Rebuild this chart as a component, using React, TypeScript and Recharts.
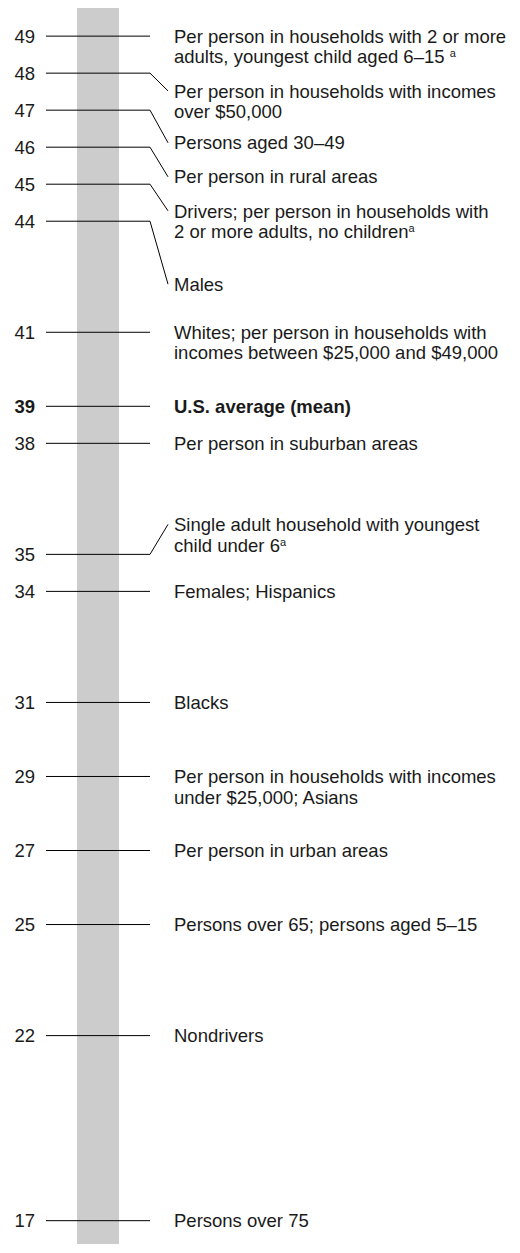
import { ScatterChart, Scatter, XAxis, YAxis, ReferenceArea, ReferenceLine } from 'recharts';

// daily miles travelled, by group
const values = [49, 48, 47, 46, 45, 44, 41, 39, 38, 35, 34, 31, 29, 27, 25, 22, 17];

// where each label's first line sits (same units as the values)
const labelAt = [49, 47.52, 46.12, 45.2, 44.28, 42.3, 41, 39, 38, 35.81, 34, 31, 29, 27, 25, 22, 17];

const labels = [
  ['Per person in households with 2 or more', 'adults, youngest child aged 6\u201315 ^a'],
  ['Per person in households with incomes', 'over $50,000'],
  ['Persons aged 30\u201349'],
  ['Per person in rural areas'],
  ['Drivers; per person in households with', '2 or more adults, no children^a'],
  ['Males'],
  ['Whites; per person in households with', 'incomes between $25,000 and $49,000'],
  ['U.S. average (mean)'],
  ['Per person in suburban areas'],
  ['Single adult household with youngest', 'child under 6^a'],
  ['Females; Hispanics'],
  ['Blacks'],
  ['Per person in households with incomes', 'under $25,000; Asians'],
  ['Per person in urban areas'],
  ['Persons over 65; persons aged 5\u201315'],
  ['Nondrivers'],
  ['Persons over 75'],
];

const meanValue = 39;

const FONT = '"Liberation Sans", Arial, sans-serif';
const INK = '#1a1a1a';
const SIZE = 18.5;

const tickData = values.map(v => ({ x: 0, y: v, bold: v === meanValue }));
const labelData = values.map((v, i) => ({ x: 0, y: labelAt[i], lines: labels[i], bold: v === meanValue }));

const renderLine = (line: string) => {
  const [main, sup] = line.split('^');
  return (
    <>
      {main}
      {sup !== undefined && (
        <tspan fontSize={11} dy={-6}>{sup}</tspan>
      )}
    </>
  );
};

const NumberShape = (props: any) => {
  const { cy, payload } = props;
  return (
    <text x={35} y={cy} dy="0.36em" textAnchor="end" fontFamily={FONT} fontSize={SIZE}
      fontWeight={payload.bold ? 'bold' : 'normal'} fill={INK}>
      {payload.y}
    </text>
  );
};

const LabelShape = (props: any) => {
  const { cy, payload } = props;
  return (
    <g>
      {payload.lines.map((line: string, i: number) => (
        <text key={i} x={174} y={cy + i * 20.5} dy="0.36em" fontFamily={FONT} fontSize={SIZE}
          fontWeight={payload.bold ? 'bold' : 'normal'} fill={INK}>
          {renderLine(line)}
        </text>
      ))}
    </g>
  );
};

export default function App() {
  return (
    <div style={{ position: 'absolute', left: 0, top: 0, background: '#fff' }}>
      <ScatterChart width={520} height={1253} margin={{ top: 8, right: 0, bottom: 9, left: 0 }}>
        <XAxis type="number" dataKey="x" domain={[0, 520]} hide />
        <YAxis type="number" dataKey="y" domain={[16.37, 49.76]} allowDataOverflow hide />

        <ReferenceArea x1={77} x2={119} fill="#cccccc" fillOpacity={1} stroke="none" />

        {values.map((v, i) => (
          <ReferenceLine key={`h${i}`} segment={[{ x: 46, y: v }, { x: 150, y: v }]}
            stroke="#000" strokeWidth={1} />
        ))}
        {values.map((v, i) =>
          labelAt[i] !== v ? (
            <ReferenceLine key={`d${i}`} segment={[{ x: 150, y: v }, { x: 168, y: labelAt[i] }]}
              stroke="#000" strokeWidth={1} />
          ) : null
        )}

        <Scatter data={tickData} shape={NumberShape} isAnimationActive={false} />
        <Scatter data={labelData} shape={LabelShape} isAnimationActive={false} />
      </ScatterChart>
    </div>
  );
}
